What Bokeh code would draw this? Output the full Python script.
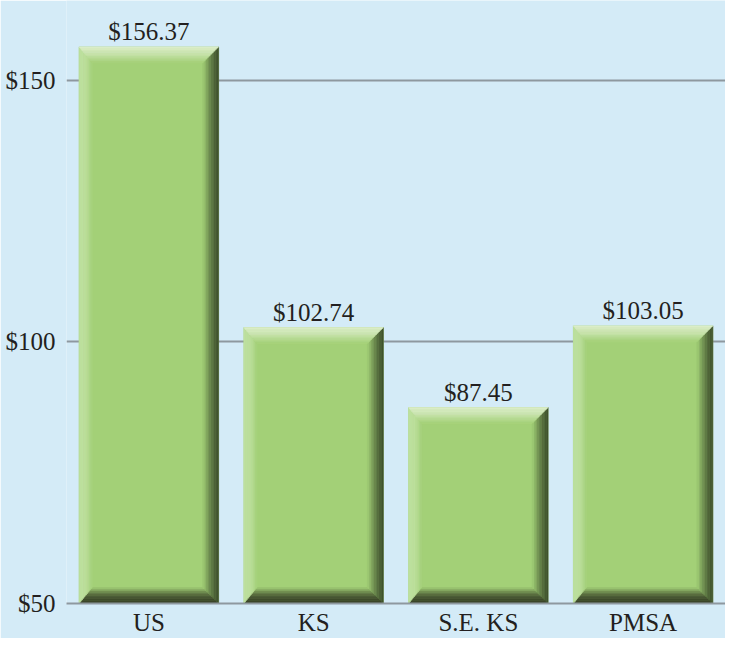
from bokeh.plotting import figure
from bokeh.models import Range1d, FixedTicker
from bokeh.embed import file_html
from bokeh.resources import INLINE
from bokeh.core.properties import value

# ---- data ----
categories = ["US", "KS", "S.E. KS", "PMSA"]
values = [156.37, 102.74, 87.45, 103.05]
value_labels = ["$156.37", "$102.74", "$87.45", "$103.05"]
y_ticks = [50, 100, 150]
y_tick_labels = ["$50", "$100", "$150"]

# ---- style ----
BG = "#d4ebf7"
GRID = "#8e989f"
TEXT = "#231f20"
FONT = "Liberation Serif"
FSIZE = "25px"
MAIN = (163, 208, 119)
EDGE_TOP = (220, 238, 202)
EDGE_LEFT = (190, 224, 160)
EDGE_RIGHT = (62, 80, 45)
EDGE_BOTTOM = (58, 68, 40)

W, H = 725, 638
LEFT, BOTTOM = 66, 35
Y0, Y1 = 50, 165.25
X0, X1 = 0, len(categories)
BAR_W = 0.846

px_x = (W - LEFT) / (X1 - X0)
px_y = (H - BOTTOM) / (Y1 - Y0)

p = figure(width=W, height=H, output_backend="svg", toolbar_location=None,
           x_range=Range1d(X0, X1), y_range=Range1d(Y0, Y1),
           min_border_left=LEFT, min_border_bottom=BOTTOM,
           min_border_top=0, min_border_right=0)
p.background_fill_color = BG
p.border_fill_color = BG
p.outline_line_color = None

p.xgrid.visible = False
p.ygrid.ticker = FixedTicker(ticks=[t for t in y_ticks if t > Y0])
p.ygrid.grid_line_color = GRID
p.ygrid.grid_line_width = 2


def lerp(a, b, t):
    return "#%02x%02x%02x" % tuple(int(round(a[i] + (b[i] - a[i]) * t)) for i in range(3))


N = 10
bevel_px = {"top": 16, "left": 13, "right": 16, "bottom": 16}
xs, ys, cols = [], [], []
for i, v in enumerate(values):
    cx = i + 0.5
    L, R, B, T = cx - BAR_W / 2, cx + BAR_W / 2, Y0, v
    xs.append([L, R, R, L]); ys.append([B, B, T, T]); cols.append(lerp(MAIN, MAIN, 0))
    for k in range(N):
        t0, t1 = k / N, (k + 1) / N
        tl = bevel_px["left"] / px_x; tr = bevel_px["right"] / px_x
        tt = bevel_px["top"] / px_y; tb = bevel_px["bottom"] / px_y
        oL, iL = L + tl * t0, L + tl * t1
        oR, iR = R - tr * t0, R - tr * t1
        oB, iB = B + tb * t0, B + tb * t1
        oT, iT = T - tt * t0, T - tt * t1
        tm = (k + 0.5) / N
        xs.append([oL, oR, iR, iL]); ys.append([oB, oB, iB, iB]); cols.append(lerp(EDGE_BOTTOM, MAIN, tm ** 2.2))
        xs.append([oR, oR, iR, iR]); ys.append([oB, oT, iT, iB]); cols.append(lerp(EDGE_RIGHT, MAIN, tm ** 1.4))
        xs.append([oL, oL, iL, iL]); ys.append([oB, oT, iT, iB]); cols.append(lerp(EDGE_LEFT, MAIN, tm ** 3))
        xs.append([oL, oR, iR, iL]); ys.append([oT, oT, iT, iT]); cols.append(lerp(EDGE_TOP, MAIN, tm ** 1.3))

p.patches(xs=xs, ys=ys, fill_color=cols, line_color=cols, line_width=0.6)

p.text(x=[i + 0.5 for i in range(len(categories))], y=values, text=value_labels,
       text_font=value(FONT), text_font_size=FSIZE, text_color=TEXT,
       text_align="center", text_baseline="bottom", y_offset=-2)

# y axis
p.yaxis.ticker = FixedTicker(ticks=y_ticks)
p.yaxis.major_label_overrides = {t: l for t, l in zip(y_ticks, y_tick_labels)}
p.yaxis.axis_line_color = None
p.yaxis.major_tick_line_color = None
p.yaxis.minor_tick_line_color = None
p.yaxis.major_label_standoff = 5
p.yaxis.major_label_text_font = FONT
p.yaxis.major_label_text_font_size = FSIZE
p.yaxis.major_label_text_color = TEXT

# x axis
xt = [i + 0.5 for i in range(len(categories))]
p.xaxis.ticker = FixedTicker(ticks=xt)
p.xaxis.major_label_overrides = {t: c for t, c in zip(xt, categories)}
p.xaxis.axis_line_color = GRID
p.xaxis.axis_line_width = 2
p.xaxis.major_tick_line_color = None
p.xaxis.minor_tick_line_color = None
p.xaxis.major_tick_out = 0
p.xaxis.major_label_standoff = 5
p.xaxis.major_label_text_font = FONT
p.xaxis.major_label_text_font_size = FSIZE
p.xaxis.major_label_text_color = TEXT

open("out.html", "w").write(file_html(p, INLINE))
